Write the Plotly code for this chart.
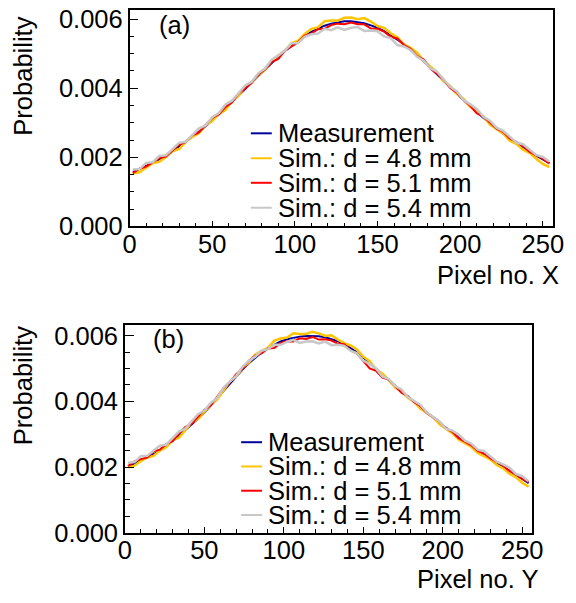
import plotly.graph_objects as go

W, H = 576, 603
FONT = "Liberation Sans, Arial, Helvetica, sans-serif"
FS = 25.5

# ---- data: 64 bins of width 4 pixels over 0..256, values in units of 1e-5 ----
BIN_WIDTH = 4
N_BINS = 64
SCALE = 1e-5
bin_centers = [BIN_WIDTH * i + BIN_WIDTH / 2 for i in range(N_BINS)]

series_names = ["Measurement", "Sim.: d = 4.8 mm", "Sim.: d = 5.1 mm", "Sim.: d = 5.4 mm"]
series_colors = ["#00009a", "#ffc400", "#ff0000", "#c8c8c8"]
series_widths = [2, 2.5, 2, 2.5]

# panel (a): Pixel no. X
a_meas = [158, 166, 175, 184, 194, 205, 218, 231, 245, 260, 275, 290, 307, 324, 342, 361,
          379, 398, 418, 437, 455, 474, 491, 508, 523, 538, 551, 563, 572, 581, 587, 591,
          594, 594, 592, 588, 582, 575, 565, 554, 541, 527, 512, 495, 478, 460, 441, 422,
          403, 384, 366, 348, 331, 315, 299, 284, 269, 255, 242, 229, 217, 205, 194, 183]
a_sim48 = [153, 157, 170, 183, 187, 201, 218, 224, 245, 259, 270, 293, 305, 325, 337, 363,
           379, 403, 417, 439, 453, 479, 495, 509, 530, 538, 557, 572, 576, 594, 596, 596,
           604, 605, 600, 603, 593, 580, 575, 559, 548, 527, 517, 503, 479, 464, 447, 421,
           407, 384, 370, 346, 332, 319, 295, 283, 269, 248, 239, 222, 213, 196, 181, 172]
a_sim51 = [154, 167, 173, 185, 198, 202, 220, 237, 244, 264, 272, 293, 314, 324, 346, 359,
           385, 400, 416, 441, 454, 476, 485, 509, 522, 533, 552, 558, 571, 572, 583, 587,
           585, 590, 585, 585, 573, 572, 564, 549, 544, 525, 514, 493, 483, 457, 442, 425,
           401, 388, 365, 350, 328, 318, 301, 283, 274, 255, 245, 233, 216, 207, 196, 182]
a_sim54 = [165, 166, 184, 186, 204, 206, 224, 242, 245, 265, 284, 292, 316, 328, 353, 364,
           387, 408, 419, 444, 457, 483, 495, 509, 530, 531, 549, 556, 558, 572, 568, 576,
           569, 575, 577, 566, 567, 565, 550, 545, 525, 521, 511, 491, 480, 458, 448, 426,
           404, 391, 366, 354, 340, 318, 306, 286, 277, 260, 243, 238, 223, 207, 201, 188]

# panel (b): Pixel no. Y
b_meas = [201, 210, 219, 228, 239, 250, 264, 279, 295, 312, 330, 347, 366, 386, 408, 431,
          454, 476, 497, 516, 534, 549, 562, 573, 582, 589, 594, 597, 599, 599, 598, 595,
          590, 583, 575, 563, 549, 533, 516, 498, 480, 463, 446, 430, 414, 398, 382, 366,
          350, 334, 319, 304, 290, 276, 263, 250, 238, 226, 214, 201, 189, 176, 164, 151]
b_sim48 = [199, 204, 218, 229, 234, 250, 260, 281, 289, 311, 335, 346, 368, 390, 405, 434,
           460, 476, 501, 518, 542, 554, 563, 585, 591, 594, 607, 605, 605, 612, 607, 599,
           601, 588, 577, 570, 558, 536, 522, 496, 485, 465, 442, 431, 411, 398, 377, 365,
           352, 330, 316, 303, 284, 272, 261, 243, 233, 223, 206, 196, 180, 169, 152, 140]
b_sim51 = [203, 217, 224, 229, 248, 253, 270, 279, 302, 322, 332, 352, 374, 387, 414, 440,
           457, 483, 499, 524, 539, 546, 561, 562, 578, 583, 582, 592, 590, 596, 588, 589,
           585, 575, 574, 555, 545, 524, 500, 493, 472, 466, 447, 426, 416, 397, 385, 364,
           351, 338, 318, 307, 288, 278, 266, 249, 242, 226, 216, 204, 188, 178, 164, 154]
b_sim54 = [213, 215, 233, 234, 250, 265, 268, 289, 308, 317, 339, 361, 372, 395, 410, 441,
           460, 477, 505, 523, 536, 554, 559, 572, 572, 581, 587, 578, 582, 583, 576, 582,
           571, 572, 569, 554, 546, 524, 514, 500, 476, 468, 447, 436, 413, 402, 389, 366,
           353, 339, 317, 311, 299, 280, 271, 253, 248, 232, 216, 208, 198, 179, 172, 157]

panel_a_series = [a_meas, a_sim48, a_sim51, a_sim54]
panel_b_series = [b_meas, b_sim48, b_sim51, b_sim54]

x_tick_step = 50
x_minor_step = 10
y_tick_step = 0.002
y_minor_step = 0.0005
panel_labels = ["(a)", "(b)"]
x_titles = ["Pixel no. X", "Pixel no. Y"]
y_title = "Probability"


def px(x):
    return x / W


def py(y):
    return 1 - y / H


fig = go.Figure()

for p, (series, xa, ya) in enumerate([(panel_a_series, "x", "y"), (panel_b_series, "x2", "y2")]):
    for vals, name, col, lw in zip(series, series_names, series_colors, series_widths):
        yv = [v * SCALE for v in vals]
        fig.add_trace(go.Scatter(
            x=bin_centers, y=yv, mode="lines", name=name,
            line=dict(color=col, width=lw),
            xaxis=xa, yaxis=ya, showlegend=False, hoverinfo="skip"))

# panel geometry (pixels)
panels = [
    dict(l=126.5, r=563.3, t=6.0, b=229.3, ymax=0.00627,
         leg_x0=251.7, leg_x1=273.3, leg_tx=278.0, leg_rows=[133.3, 159.0, 184.3, 210.0],
         lab_x=155, lab_y=21.5, ytit_x=17.0, ytit_top=11, xtit_y=279),
    dict(l=121.7, r=541.7, t=331.0, b=545.0, ymax=0.00632,
         leg_x0=241.7, leg_x1=263.3, leg_tx=267.0, leg_rows=[451.7, 476.7, 501.7, 526.7],
         lab_x=149, lab_y=345.5, ytit_x=16.0, ytit_top=330, xtit_y=593),
]

axis_common = dict(showline=True, mirror=True, linecolor="black", linewidth=1.5,
                   showgrid=False, zeroline=False, ticks="inside", tickcolor="black",
                   tickwidth=1, tickfont=dict(family=FONT, size=FS, color="black"))

shapes = []
annotations = []
for i, pn in enumerate(panels):
    sfx = "" if i == 0 else "2"
    fig.layout["xaxis" + sfx] = dict(
        axis_common, domain=[px(pn["l"]), px(pn["r"])], anchor="y" + sfx,
        range=[0, 256], tick0=0, dtick=x_tick_step, ticklen=6, ticklabelstandoff=-6,
        minor=dict(dtick=x_minor_step, ticklen=3.5, ticks="inside", tickcolor="black", tickwidth=1))
    fig.layout["yaxis" + sfx] = dict(
        axis_common, domain=[py(pn["b"]), py(pn["t"])], anchor="x" + sfx,
        range=[0, pn["ymax"]], tick0=0, dtick=y_tick_step, tickformat=".3f", ticklen=9,
        minor=dict(dtick=y_minor_step, ticklen=5, ticks="inside", tickcolor="black", tickwidth=1))

    # legend (manual, ROOT TLegend style)
    for row_y, name, col, lw in zip(pn["leg_rows"], series_names, series_colors, series_widths):
        shapes.append(dict(type="line", xref="paper", yref="paper",
                           x0=px(pn["leg_x0"]), x1=px(pn["leg_x1"]), y0=py(row_y), y1=py(row_y),
                           line=dict(color=col, width=2)))
        annotations.append(dict(text=name, xref="paper", yref="paper", x=px(pn["leg_tx"]), y=py(row_y),
                                xanchor="left", yanchor="middle", showarrow=False,
                                font=dict(family=FONT, size=FS, color="black")))
    # panel label
    annotations.append(dict(text=panel_labels[i], xref="paper", yref="paper", x=px(pn["lab_x"]),
                            y=py(pn["lab_y"]), xanchor="left", yanchor="middle", showarrow=False,
                            font=dict(family=FONT, size=FS, color="black")))
    # axis titles
    annotations.append(dict(text=x_titles[i], xref="paper", yref="paper", x=px(pn["r"] + 9),
                            y=py(pn["xtit_y"]), xanchor="right", yanchor="middle", showarrow=False,
                            font=dict(family=FONT, size=FS, color="black")))
    annotations.append(dict(text=y_title, xref="paper", yref="paper", x=px(pn["ytit_x"]),
                            y=py(pn["ytit_top"]), xanchor="center", yanchor="top", textangle=-90,
                            showarrow=False, font=dict(family=FONT, size=FS, color="black")))

fig.update_layout(
    width=W, height=H, margin=dict(l=0, r=0, t=0, b=0, pad=0),
    paper_bgcolor="white", plot_bgcolor="white",
    shapes=shapes, annotations=annotations, showlegend=False,
    font=dict(family=FONT, size=FS, color="black"),
)

fig.write_html("out.html")
